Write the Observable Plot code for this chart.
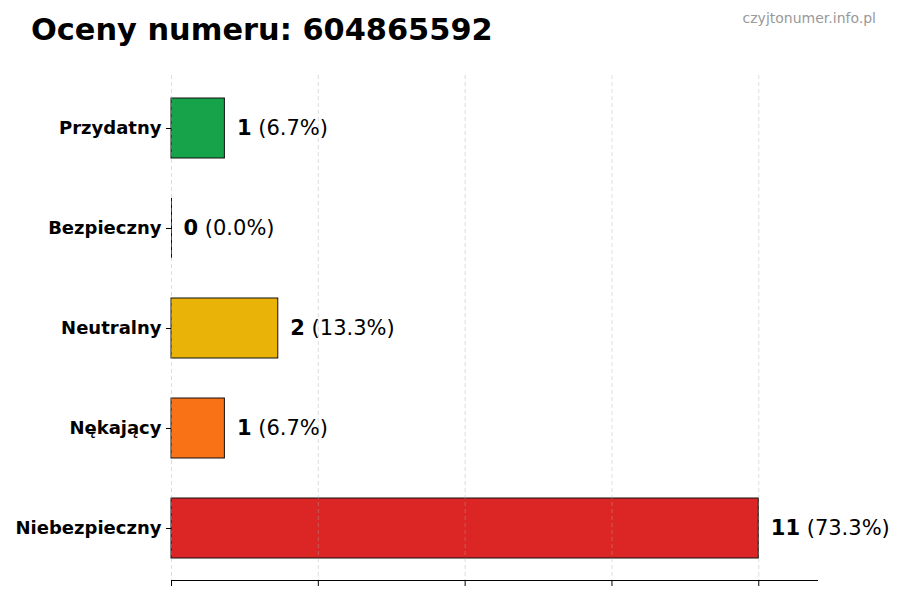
<!DOCTYPE html>
<html><head><meta charset="utf-8">
<script src="https://cdn.jsdelivr.net/npm/d3@7"></script>
<script src="https://cdn.jsdelivr.net/npm/@observablehq/plot@0.6"></script>
<style>
body{margin:0;background:#fff;font-family:"DejaVu Sans",sans-serif;}
#wrap{position:relative;width:900px;height:600px;}
#head{position:relative;height:65px;}
#title{position:absolute;left:31px;top:15px;font-size:30.4px;line-height:30.4px;font-weight:bold;color:#000;white-space:nowrap;}
#wm{position:absolute;right:24px;top:11px;font-size:14px;line-height:14px;color:#999;white-space:nowrap;}
#chart svg{display:block;}
</style></head><body>
<div id="wrap"><div id="head"><div id="title">Oceny numeru: 604865592</div><div id="wm">czyjtonumer.info.pl</div></div><div id="chart"></div></div>
<script>
const categories = ["Przydatny","Bezpieczny","Neutralny","Nękający","Niebezpieczny"];
const counts = [1, 0, 2, 1, 11];
const percents = [6.7, 0.0, 13.3, 6.7, 73.3];
const colors = ["#16a34a", "#6b7280", "#eab308", "#f97316", "#dc2626"];
const xTicks = [0, 2.75, 5.5, 8.25, 11];
const xMax = 12.1;

const data = categories.map((c, i) => ({category: c, value: counts[i], pct: percents[i], color: colors[i]}));

const chart = Plot.plot({
  width: 900,
  height: 535,
  marginTop: 10,
  marginBottom: 20,
  marginLeft: 171,
  marginRight: 83,
  style: {fontFamily: "DejaVu Sans", background: "#fff", color: "#000", overflow: "visible"},
  x: {domain: [0, xMax], axis: null},
  y: {domain: categories, paddingInner: 0.4, paddingOuter: 0.2, insetTop: 3, insetBottom: 2, axis: null},
  marks: [
    Plot.barX(data, {x: "value", y: "category", fill: d => d.color, stroke: "#111", strokeWidth: 1}),
    Plot.tickX(data.filter(d => d.value === 0), {x: "value", y: "category", stroke: "#111", strokeWidth: 1}),
    Plot.gridX(xTicks, {stroke: "#aaa", strokeOpacity: 0.5, strokeDasharray: "4,3", strokeWidth: 0.8}),
    Plot.frame({anchor: "bottom", stroke: "#000", strokeWidth: 1}),
    Plot.axisX({ticks: xTicks, tickSize: 6, tickFormat: () => "", label: null, stroke: "#000"}),
    Plot.axisY({tickSize: 5, tickPadding: 5, fontSize: 18, fontWeight: "bold", label: null, fill: "#000", stroke: "#000"}),
    Plot.text(data, {
      x: "value", y: "category",
      text: d => `${d.value} (${d.pct.toFixed(1)}%)`,
      textAnchor: "start", dx: 12, fontSize: 21, fill: "#000",
      render(index, scales, values, dimensions, context, next) {
        const g = next(index, scales, values, dimensions, context);
        d3.select(g).selectAll("text").each(function(_, j) {
          const d = data[index[j]];
          const t = d3.select(this);
          t.text(null);
          t.append("tspan").attr("font-weight", "bold").text(d.value);
          t.append("tspan").text(` (${d.pct.toFixed(1)}%)`);
        });
        return g;
      }
    })
  ]
});
document.getElementById("chart").appendChild(chart);
</script>
</body></html>
